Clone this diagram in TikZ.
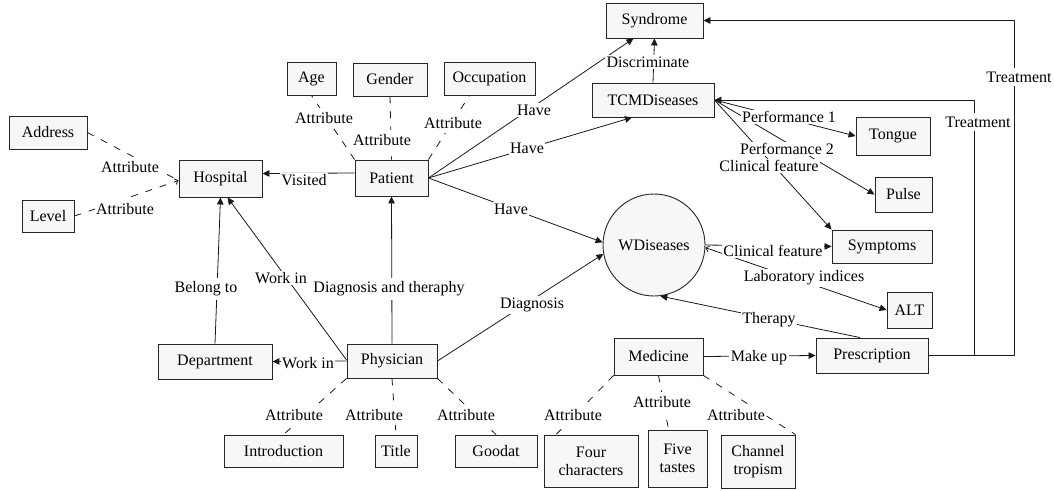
\documentclass[tikz,border=0pt]{standalone}
\usepackage{fontspec}
\setmainfont{Liberation Serif}
\usetikzlibrary{arrows.meta}
\begin{document}
\begin{tikzpicture}[x=1pt,y=-1pt, font=\fontsize{16}{18}\selectfont,
  box/.style={draw=black!85, line width=0.9pt, fill=black!3, inner sep=1pt, align=center},
  sz/.style n args={2}{minimum width=#1pt, minimum height=#2pt},
  lbl/.style={fill=white, inner sep=1.5pt},
  albl/.style={fill=white, inner xsep=1.5pt, inner ysep=4pt},
  conn/.style={line width=0.8pt, draw=black!90},
  tip/.style={-{Triangle[length=7pt,width=6.5pt]}},
  attr/.style={conn, dash pattern=on 7pt off 8pt},
  barb/.style={-{Straight Barb[length=3pt,width=6pt]}}]
\useasboundingbox (0,0) rectangle (1054,490);

% ---------- boxes ----------
\node[box, sz={97}{35}] (syn) at (654.5,20.5) {Syndrome};
\node[box, sz={49}{33}] (age) at (311.5,78.5) {Age};
\node[box, sz={74}{33}] (gender) at (390,79.5) {Gender};
\node[box, sz={91}{33}] (occ) at (489.5,78.5) {Occupation};
\node[box, sz={122}{34}] (tcm) at (653,100) {TCMDiseases};
\node[box, sz={73}{36}] (patient) at (391.5,178) {Patient};
\node[box, sz={83}{37}] (hosp) at (220.5,178.5) {Hospital};
\node[box, sz={78}{33}] (addr) at (48,132.5) {Address};
\node[box, sz={52}{32}] (level) at (48,216) {Level};
\node[box, sz={114}{35}] (dept) at (215,361.5) {Department};
\node[box, sz={90}{34}] (phys) at (392,361) {Physician};
\node[box, sz={119}{32}] (intro) at (283.5,451) {Introduction};
\node[box, sz={42}{32}] (title) at (396,451) {Title};
\node[box, sz={82}{32}] (goodat) at (496,451) {Goodat};
\node[box, sz={94}{52}] (four) at (591,461) {Four\\characters};
\node[box, sz={59}{57}] (five) at (677.5,458.5) {Five\\tastes};
\node[box, sz={74}{53}] (channel) at (758,461.5) {Channel\\tropism};
\node[box, sz={89}{37}] (medicine) at (658.5,356.5) {Medicine};
\node[draw=black!85, line width=0.9pt, fill=black!3, circle, minimum size=102pt, inner sep=0pt] (wd) at (654,245) {WDiseases};
\node[box, sz={74}{38}] (tongue) at (893,136) {Tongue};
\node[box, sz={57}{35}] (pulse) at (903.5,194.5) {Pulse};
\node[box, sz={100}{33}] (symptoms) at (882,246.5) {Symptoms};
\node[box, sz={45}{36}] (alt) at (909.5,310) {ALT};
\node[box, sz={112}{35}] (presc) at (872,355.5) {Prescription};

\coordinate (ro) at (1014,200);
\coordinate (ri) at (974,200);

% ---------- connectors ----------
\draw[conn, tip] (patient.east) -- ([xshift=-21pt]syn.south);
\draw[conn, tip] (tcm.north) -- (syn.south);
\draw[conn, tip] (patient.east) -- ([xshift=-21pt]tcm.south);
\draw[conn, tip] (patient.east) -- (wd.177);
\draw[conn, tip] ([yshift=5pt]patient.west) -- ([yshift=5pt]hosp.east);
\draw[attr] (patient.north west) -- (age.south);
\draw[attr] (gender.south) -- (patient.north);
\draw[attr] (patient.north east) -- ([xshift=-20pt]occ.south);
\draw[attr] (addr.east) -- ([yshift=-2pt]hosp.west);
\draw[attr, barb] (level.east) -- ([yshift=-2pt]hosp.west);
\draw[conn, tip] (dept.north) -- (hosp.south);
\draw[conn, tip] ([yshift=1pt]phys.west) -- ([xshift=7pt]hosp.south);
\draw[conn, tip] (phys.west) -- (dept.east);
\draw[conn, tip] (phys.north) -- (patient.south);
\draw[conn, tip] (phys.east) -- (wd.190);
\draw[attr] (phys.south west) -- (intro.north);
\draw[attr] (phys.south) -- (title.north);
\draw[attr] (phys.south east) -- (goodat.north);
\draw[attr] (medicine.south west) -- ([xshift=-35pt]four.north);
\draw[attr] (medicine.south) -- ([xshift=-9pt]five.north);
\draw[attr] (medicine.south east) -- (channel.north east);
\draw[conn, tip] (medicine.east) -- (presc.west);
\draw[conn, tip] ([xshift=-12pt]presc.north) -- (wd.-83);
\draw[conn, tip] (wd.east) -- (symptoms.west);
\draw[conn, {Straight Barb[length=3pt,width=6pt]}-{Triangle[length=7pt,width=6.5pt]}] (wd.-3) -- (alt.west);
\draw[conn, tip] (tcm.east) -- (tongue.west);
\draw[conn, tip] (tcm.east) -- (pulse.west);
\draw[conn, tip] (tcm.east) -- (symptoms.north west);
\draw[conn, tip] (presc.east) -| (ro) |- (syn.east);
\draw[conn, tip] (presc.east) -| (ri) |- (tcm.east);

% ---------- labels ----------
\node[lbl] (l1) at (534,110) {Have};
\node[lbl] (l2) at (648,62) {Discriminate};
\node[lbl] (l3) at (527,148) {Have};
\node[lbl] (l4) at (511,209) {Have};
\node[lbl] (l5) at (304,180) {Visited};
\node[albl] (l6) at (324,118) {Attribute};
\node[albl] (l7) at (382,140) {Attribute};
\node[albl] (l8) at (453,123) {Attribute};
\node[albl] (l9) at (130,167) {Attribute};
\node[albl] (l10) at (125,209) {Attribute};
\node[lbl, inner ysep=4pt] (l11) at (206,289) {Belong to};
\node[lbl] (l12) at (281,278) {Work in};
\node[lbl] (l13) at (308,363) {Work in};
\node[lbl, inner ysep=4pt] (l14) at (389,289) {Diagnosis and theraphy};
\node[lbl] (l15) at (532,305) {Diagnosis};
\node[albl] (l16) at (294,415) {Attribute};
\node[albl] (l17) at (374,415) {Attribute};
\node[albl] (l18) at (466,415) {Attribute};
\node[albl] (l19) at (573,415) {Attribute};
\node[albl] (l20) at (662,402) {Attribute};
\node[albl] (l21) at (736,415) {Attribute};
\node[lbl] (l22) at (759,358) {Make up};
\node[lbl] (l23) at (769,320) {Therapy};
\node[lbl] (l24) at (773,251) {Clinical feature};
\node[lbl] (l25) at (804,278) {Laboratory indices};
\node[lbl] (l26) at (789,117) {Performance 1};
\node[lbl] (l27) at (787,149) {Performance 2};
\node[lbl] (l28) at (769,166) {Clinical feature};
\node[lbl, inner ysep=4pt] (l29) at (1019,77) {Treatment};
\node[lbl, inner ysep=4pt] (l30) at (978,122) {Treatment};
\end{tikzpicture}
\end{document}
